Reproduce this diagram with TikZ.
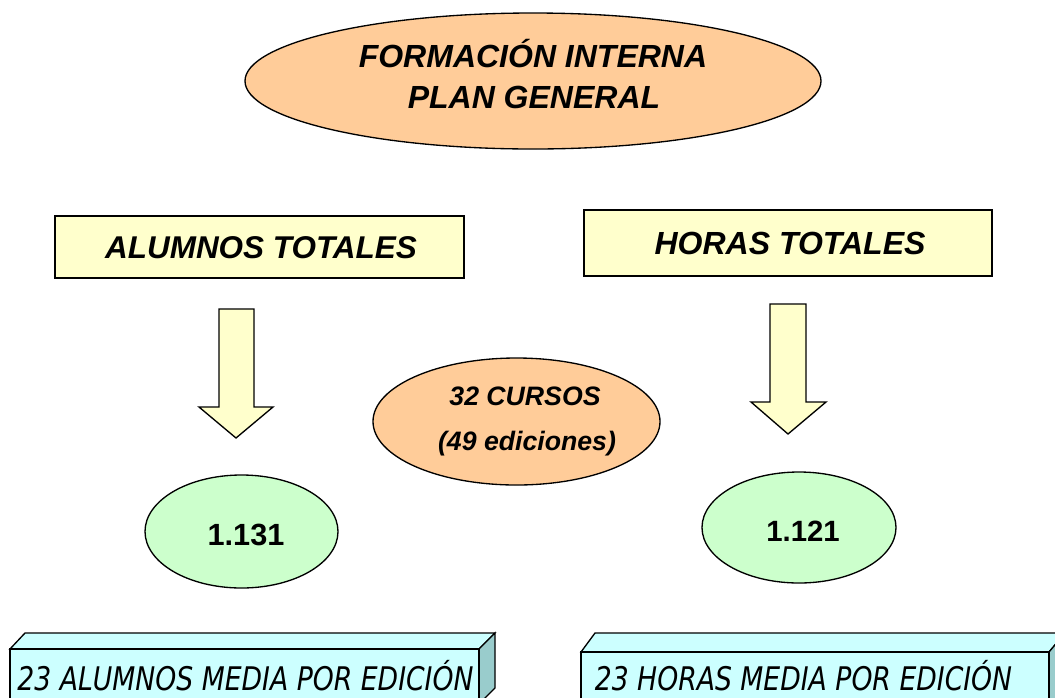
\documentclass[tikz,border=0pt]{standalone}
\usepackage{fontspec}
\setmainfont{Liberation Sans}
\newfontfamily\comicf{DejaVu Sans}
\usetikzlibrary{shapes.geometric}
\definecolor{peach}{HTML}{FFCC99}
\definecolor{paleyellow}{HTML}{FFFFCC}
\definecolor{palegreen}{HTML}{CCFFCC}
\definecolor{palecyan}{HTML}{CCFFFF}
\definecolor{sidecyan}{HTML}{99CCCC}
\def\u{0.75pt}
\tikzset{
  shp/.style={draw=black, line width=1pt, line join=miter},
  ellbox/.style={shp, ellipse, inner sep=0pt},
  rectbox/.style={shp, fill=paleyellow},
  blockarrow/.style={shp, fill=paleyellow},
  cubfront/.style={shp, fill=palecyan},
  cubside/.style={shp, fill=sidecyan},
  txt/.style={inner sep=0pt, anchor=base},
  bigtxt/.style={txt, font=\fontsize{24}{28}\selectfont\bfseries\itshape},
  comictxt/.style={txt, font=\comicf\itshape\fontsize{20}{24}\selectfont}
}
\begin{document}
\begin{tikzpicture}[x=0.75pt,y=-0.75pt]
\useasboundingbox (0,0) rectangle (1055,697);
\clip (0,0) rectangle (1055,697);

% top ellipse
\node[ellbox, fill=peach, minimum width={576*\u}, minimum height={136*\u}] (top) at (533,81) {};
\node[bigtxt] (topA) at (533,67) {FORMACIÓN INTERNA};
\node[bigtxt] (topB) at (534,108) {PLAN GENERAL};

% rectangles
\draw[rectbox] (55,216) rectangle (464,278);
\node[bigtxt, font=\fontsize{23.6}{28}\selectfont\bfseries\itshape] (alumT) at (261,258) {ALUMNOS TOTALES};
\draw[rectbox] (584,210) rectangle (992,276);
\node[bigtxt, font=\fontsize{24}{28}\selectfont\bfseries\itshape] (horT) at (790,254) {HORAS TOTALES};

% arrows
\draw[blockarrow] (219,309) -- (254,309) -- (254,407) -- (273,407) -- (236,438) -- (199,407) -- (219,407) -- cycle;
\draw[blockarrow] (770,304) -- (806,304) -- (806,402) -- (826,402) -- (788,434) -- (751,402) -- (770,402) -- cycle;

% middle ellipse
\node[ellbox, fill=peach, minimum width={287*\u}, minimum height={127*\u}] (mid) at (516.5,421.5) {};
\node[bigtxt, font=\fontsize{20}{24}\selectfont\bfseries\itshape] (midA) at (525,405) {32 CURSOS};
\node[bigtxt, font=\fontsize{20}{24}\selectfont\bfseries\itshape] (midB) at (527,450) {(49 ediciones)};

% green ellipses
\node[ellbox, fill=palegreen, minimum width={193*\u}, minimum height={113*\u}] (gl) at (241.5,531.5) {};
\node[bigtxt, font=\fontsize{23}{26}\selectfont\bfseries] (glT) at (246,545) {1.131};
\node[ellbox, fill=palegreen, minimum width={194*\u}, minimum height={111*\u}] (gr) at (799,527.5) {};
\node[bigtxt, font=\fontsize{22}{26}\selectfont\bfseries] (grT) at (803,541) {1.121};

% bottom cuboids
\draw[cubfront] (10,649) -- (25,633) -- (495,633) -- (479,649) -- cycle;
\draw[cubside] (479,649) -- (495,633) -- (495,688) -- (479,704) -- cycle;
\draw[cubfront] (10,649) rectangle (479,712);
\node[comictxt] (blT) at (245.5,690) {\scalebox{1}[1.22]{23 ALUMNOS MEDIA POR EDICIÓN}};

\draw[cubfront] (581,652) -- (595,633) -- (1065,633) -- (1049,652) -- cycle;
\draw[cubside] (1049,652) -- (1065,633) -- (1065,700) -- (1049,712) -- cycle;
\draw[cubfront] (581,652) rectangle (1049,712);
\node[comictxt] (brT) at (803.5,690) {\scalebox{1}[1.22]{23 HORAS MEDIA POR EDICIÓN}};
\end{tikzpicture}
\end{document}
